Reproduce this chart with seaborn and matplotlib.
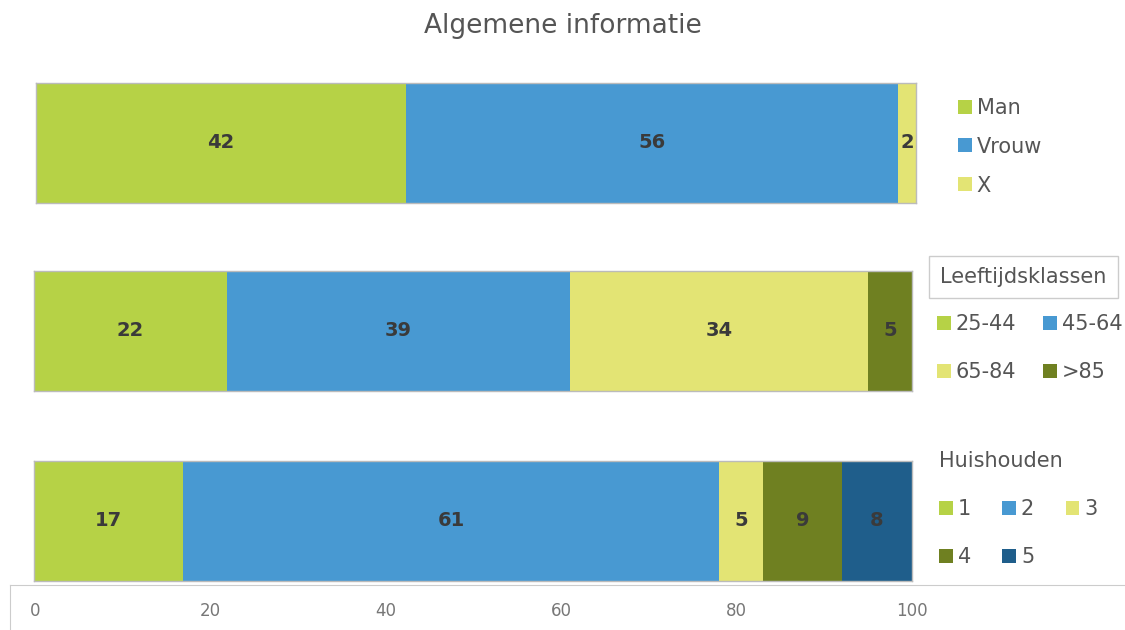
import numpy as np
import matplotlib
matplotlib.use('Agg')
import matplotlib.pyplot as plt
from matplotlib.patches import Patch
import seaborn as sns

# data
gender_labels = ['Man', 'Vrouw', 'X']
gender_values = [42, 56, 2]
age_labels = ['25-44', '45-64', '65-84', '>85']
age_values = [22, 39, 34, 5]
household_labels = ['1', '2', '3', '4', '5']
household_values = [17, 61, 5, 9, 8]
xticks = [0, 20, 40, 60, 80, 100]

colors = ['#b6d246', '#4899d2', '#e3e474', '#6f8021', '#1f5e8b']
text_gray = '#555555'

sns.set_style('white')
plt.rcParams['font.family'] = ['DejaVu Sans']

W, H = 1125, 630
fig = plt.figure(figsize=(W / 100, H / 100), dpi=100)


def px_axes(x0, y0, x1, y1):
    # pixel box (top-left origin) -> figure axes
    return fig.add_axes([x0 / W, 1 - y1 / H, (x1 - x0) / W, (y1 - y0) / H])


def stacked_bar(ax, name, values):
    cum = np.cumsum(values)
    # draw cumulative totals from the largest down so each segment shows
    for i in range(len(values) - 1, -1, -1):
        sns.barplot(x=[cum[i]], y=[name], orient='h', color=colors[i],
                    saturation=1, width=1, ax=ax, linewidth=0)
    for i, v in enumerate(values):
        ax.text(cum[i] - v / 2, 0, str(v), ha='center', va='center',
                fontsize=14, fontweight='bold', color='#3a3a3a')
    ax.set_xlim(0, 100)
    ax.set_ylim(0.5, -0.5)
    ax.set_xticks([])
    ax.set_yticks([])
    ax.set_xlabel('')
    ax.set_ylabel('')
    for s in ax.spines.values():
        s.set_visible(True)
        s.set_color('#bbbbbb')
        s.set_linewidth(1)


ax1 = px_axes(36, 83, 916, 203)
stacked_bar(ax1, 'Geslacht', gender_values)
ax2 = px_axes(34, 271, 912, 391)
stacked_bar(ax2, 'Leeftijd', age_values)
ax3 = px_axes(34, 461, 912, 581)
stacked_bar(ax3, 'Huishouden', household_values)

fig.suptitle('Algemene informatie', y=1 - 26 / H, va='center',
             fontsize=19, color=text_gray)


# legends (matplotlib fills columns first, so reorder for row-wise reading)
def handles(labels, order):
    return ([Patch(facecolor=colors[i], edgecolor='none') for i in order],
            [labels[i] for i in order])


leg_kw = dict(frameon=False, borderaxespad=0, borderpad=0, handlelength=0.65,
              handleheight=0.65, handletextpad=0.25, labelcolor=text_gray,
              fontsize=15)

h, l = handles(gender_labels, [0, 1, 2])
fig.legend(h, l, loc='upper left', bbox_to_anchor=(958 / W, 1 - 98 / H),
           labelspacing=0.9, **leg_kw)

h, l = handles(age_labels, [0, 2, 1, 3])
fig.legend(h, l, loc='upper left', ncol=2,
           bbox_to_anchor=(937 / W, 1 - 314 / H), labelspacing=1.35,
           columnspacing=1.3, **leg_kw)
fig.text(940 / W, 1 - 277 / H, 'Leeftijdsklassen', fontsize=15,
         color=text_gray, va='center', ha='left',
         bbox=dict(boxstyle='square,pad=0.55', fc='white', ec='#cccccc', lw=1))

h, l = handles(household_labels, [0, 3, 1, 4, 2])
leg3 = fig.legend(h, l, loc='upper left', ncol=3,
                  bbox_to_anchor=(939 / W, 1 - 451 / H), labelspacing=1.35,
                  columnspacing=1.5, title='Huishouden', title_fontsize=15,
                  alignment='left', **leg_kw)
leg3.get_title().set_color(text_gray)

# bottom value axis
axx = px_axes(10, 585, W, H + 5)
per = (912 - 35) / 100
axx.set_xlim(-(35 - 10) / per, (W - 35) / per)
axx.set_ylim(0, 1)
axx.set_yticks([])
axx.set_xticks(xticks)
axx.set_xticklabels([str(t) for t in xticks])
axx.tick_params(axis='x', length=0, pad=-24, labelsize=12, labelcolor='#777777')
for name, s in axx.spines.items():
    s.set_visible(name in ('top', 'left'))
    s.set_color('#cccccc')

fig.savefig('out.png', dpi=100)
